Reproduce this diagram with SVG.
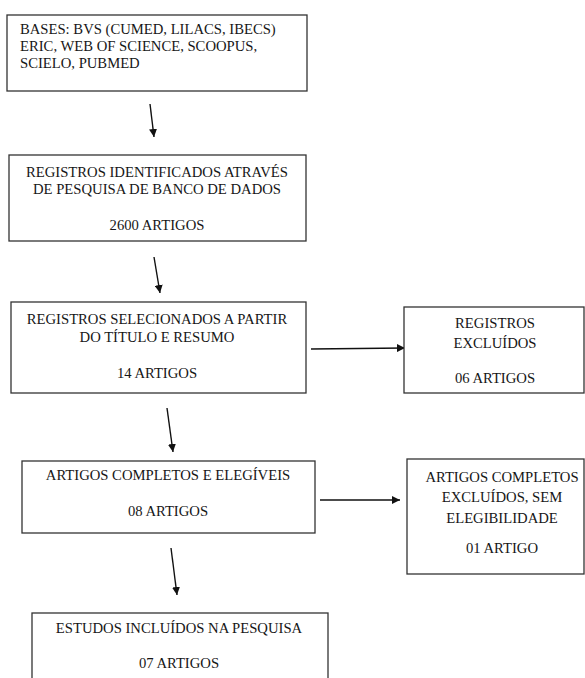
<svg xmlns="http://www.w3.org/2000/svg" width="585" height="678" viewBox="0 0 585 678">
<style>
.box{fill:#fff;stroke:#333;stroke-width:1.3}
.t{font-family:"Liberation Serif","Times New Roman",serif;font-size:14.67px;fill:#161616}
.c{text-anchor:middle}
.conn{stroke:#111;stroke-width:1.4;fill:none;marker-end:url(#ah)}
</style>
<defs>
<marker id="ah" viewBox="0 0 10 10" refX="10" refY="5" markerWidth="8" markerHeight="8" markerUnits="userSpaceOnUse" orient="auto">
<path d="M0,0 L10,5 L0,10 z" fill="#111"/>
</marker>
</defs>
<rect width="585" height="678" fill="#fff"/>
<g id="connectors">
<line class="conn" x1="150" y1="104" x2="154" y2="137"/>
<line class="conn" x1="154" y1="257" x2="160" y2="293"/>
<line class="conn" x1="311" y1="349" x2="405" y2="348"/>
<line class="conn" x1="167" y1="408" x2="173" y2="452"/>
<line class="conn" x1="320" y1="500" x2="400" y2="500"/>
<line class="conn" x1="171" y1="548" x2="177" y2="595"/>
</g>
<g id="bases">
<rect class="box" x="7" y="15" width="300" height="76"/>
<text class="t" x="20" y="34">BASES: BVS (CUMED, LILACS, IBECS)</text>
<text class="t" x="20" y="51">ERIC, WEB OF SCIENCE, SCOOPUS,</text>
<text class="t" x="20" y="68">SCIELO, PUBMED</text>
</g>
<g id="identificados">
<rect class="box" x="9" y="155" width="297" height="86"/>
<text class="t c" x="157" y="177">REGISTROS IDENTIFICADOS ATRAVÉS</text>
<text class="t c" x="157" y="194">DE PESQUISA DE BANCO DE DADOS</text>
<text class="t c" x="157" y="230">2600 ARTIGOS</text>
</g>
<g id="selecionados">
<rect class="box" x="11" y="302" width="295" height="91"/>
<text class="t c" x="157" y="324">REGISTROS SELECIONADOS A PARTIR</text>
<text class="t c" x="157" y="342">DO TÍTULO E RESUMO</text>
<text class="t c" x="157" y="378">14 ARTIGOS</text>
</g>
<g id="excluidos">
<rect class="box" x="404" y="307" width="180" height="86"/>
<text class="t c" x="495" y="328">REGISTROS</text>
<text class="t c" x="495" y="348">EXCLUÍDOS</text>
<text class="t c" x="495" y="383">06 ARTIGOS</text>
</g>
<g id="elegiveis">
<rect class="box" x="22" y="461" width="293" height="72"/>
<text class="t c" x="168" y="480">ARTIGOS COMPLETOS E ELEGÍVEIS</text>
<text class="t c" x="168" y="516">08 ARTIGOS</text>
</g>
<g id="excluidos-completos">
<rect class="box" x="407" y="459" width="177" height="115"/>
<text class="t c" x="502" y="482">ARTIGOS COMPLETOS</text>
<text class="t c" x="502" y="502">EXCLUÍDOS, SEM</text>
<text class="t c" x="502" y="523">ELEGIBILIDADE</text>
<text class="t c" x="502" y="553">01 ARTIGO</text>
</g>
<g id="incluidos">
<rect class="box" x="32" y="613" width="296" height="80"/>
<text class="t c" x="179" y="633">ESTUDOS INCLUÍDOS NA PESQUISA</text>
<text class="t c" x="179" y="668">07 ARTIGOS</text>
</g>
</svg>
